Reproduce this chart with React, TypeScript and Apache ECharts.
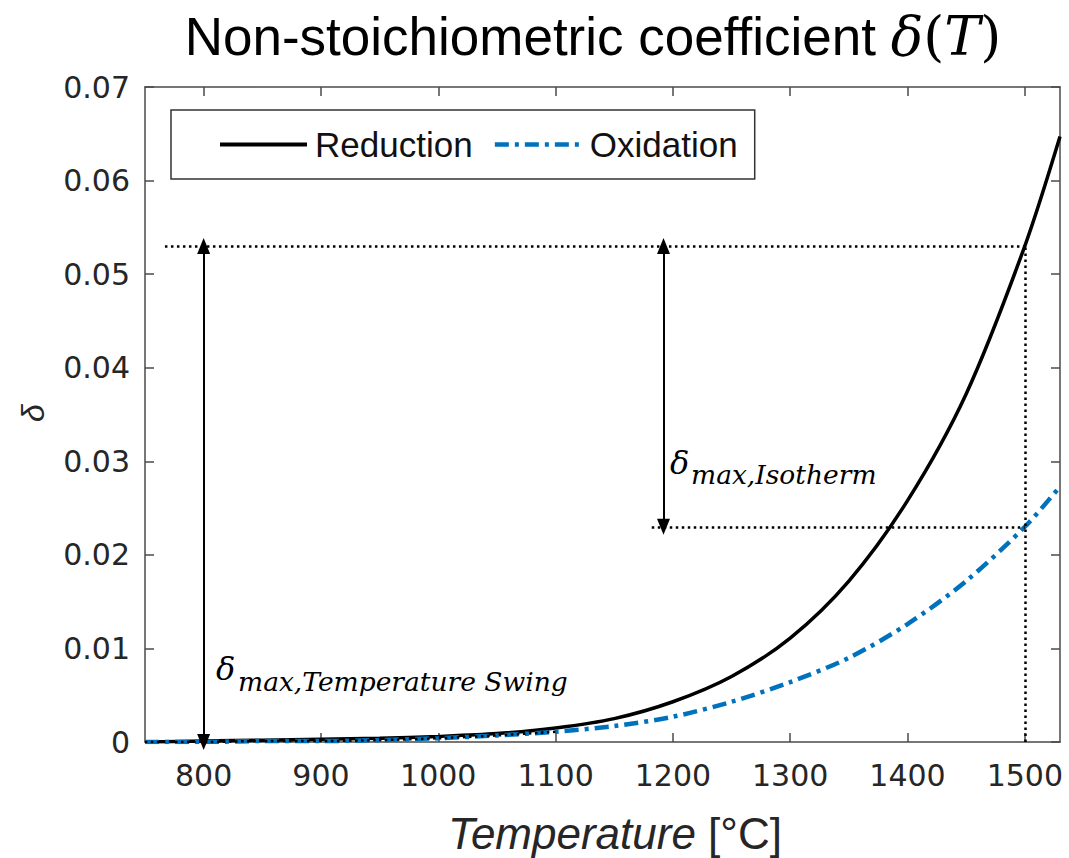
import { useEffect, useRef } from 'react';
import * as echarts from 'echarts';

// Temperature grid [°C] and non-stoichiometric coefficient δ for both half-cycles
const temperatures = [750, 800, 850, 900, 950, 1000, 1050, 1100, 1150, 1200, 1250, 1300, 1350, 1400, 1450, 1500, 1530];
const reduction = [0.0, 0.0001, 0.0002, 0.0003, 0.0004, 0.0006, 0.0009, 0.0015, 0.0025, 0.0043, 0.007, 0.0111, 0.0172, 0.0258, 0.0372, 0.053, 0.0647];
const oxidation = [0.0, 0.0, 0.0001, 0.0001, 0.0002, 0.0004, 0.0007, 0.0011, 0.0017, 0.0027, 0.0043, 0.0064, 0.009, 0.0126, 0.0172, 0.023, 0.0273];

const xTickValues = [800, 900, 1000, 1100, 1200, 1300, 1400, 1500];
const seriesNames = ['Reduction', 'Oxidation'];

// Reference points for the two δ_max definitions
const swingLowT = 800;
const isothermT = 1500;
const isoArrowT = 1192;
const deltaReductionMax = 0.053;
const deltaOxidationMax = 0.023;
const upperGuideStart = 767;
const lowerGuideStart = 1182;
const lowTraceEnd = 1100;

const X_MIN = 750;
const X_MAX = 1530;

const BLUE = '#0072BD';
const AXIS = '#4a4a4a';
const OX_DASH = [14, 6, 4, 6];
const SMOOTH = 0.3;

const pairs = (ys: number[]) => temperatures.map((t, i) => [t, ys[i]]);

export default function App() {
  const ref = useRef<HTMLDivElement>(null);

  useEffect(() => {
    if (!ref.current) return;
    const chart = echarts.init(ref.current, null, { renderer: 'svg' });

    const lowTrace = temperatures
      .map((t, i) => [t, oxidation[i]])
      .filter((p) => p[0] <= lowTraceEnd);

    const dotted = { color: '#000', width: 2.5, type: [2.5, 3.5] as number[], cap: 'butt' as const };

    const axisCommon = {
      min: X_MIN,
      max: X_MAX,
      type: 'value' as const,
      splitLine: { show: false },
      axisLine: { show: true, onZero: false, lineStyle: { color: AXIS, width: 1.5 } },
    };

    chart.setOption({
      animation: false,
      backgroundColor: '#ffffff',
      grid: { left: 145, right: 9, top: 87, bottom: 116, containLabel: false },
      legend: {
        data: [
          { name: seriesNames[0], lineStyle: { width: 4, color: '#000' } },
          { name: seriesNames[1], lineStyle: { width: 4.5, color: BLUE, type: OX_DASH } },
        ],
        left: 171,
        top: 110,
        orient: 'horizontal',
        itemWidth: 87,
        itemHeight: 20,
        itemGap: 20,
        padding: [17, 17, 17, 47],
        borderColor: '#333',
        borderWidth: 1.5,
        borderRadius: 0,
        backgroundColor: '#ffffff',
        itemStyle: { opacity: 0 },
        textStyle: {
          fontFamily: 'Liberation Sans',
          fontSize: 35,
          lineHeight: 35,
          color: '#111',
          padding: [0, 0, 0, 3],
        },
      },
      xAxis: [
        {
          ...axisCommon,
          position: 'bottom',
          axisTick: { show: true, inside: true, length: 9, customValues: xTickValues, lineStyle: { color: AXIS, width: 1.5 } },
          axisLabel: {
            show: true,
            customValues: xTickValues,
            margin: 18,
            fontFamily: 'DejaVu Sans',
            fontSize: 30,
            color: '#262626',
            formatter: (v: number) => String(v),
          },
        },
        {
          ...axisCommon,
          position: 'top',
          axisTick: { show: true, inside: true, length: 9, customValues: xTickValues, lineStyle: { color: AXIS, width: 1.5 } },
          axisLabel: { show: false },
        },
      ],
      yAxis: [
        {
          type: 'value',
          min: 0,
          max: 0.07,
          interval: 0.01,
          position: 'left',
          splitLine: { show: false },
          axisLine: { show: true, onZero: false, lineStyle: { color: AXIS, width: 1.5 } },
          axisTick: { show: true, inside: true, length: 9, lineStyle: { color: AXIS, width: 1.5 } },
          axisLabel: {
            margin: 15,
            fontFamily: 'DejaVu Sans',
            fontSize: 30,
            color: '#262626',
            formatter: (v: number) => (v === 0 ? '0' : v.toFixed(2)),
          },
        },
        {
          type: 'value',
          min: 0,
          max: 0.07,
          interval: 0.01,
          position: 'right',
          splitLine: { show: false },
          axisLine: { show: true, onZero: false, lineStyle: { color: AXIS, width: 1.5 } },
          axisTick: { show: true, inside: true, length: 9, lineStyle: { color: AXIS, width: 1.5 } },
          axisLabel: { show: false },
        },
      ],
      series: [
        {
          name: 'Reduction',
          type: 'line',
          data: pairs(reduction),
          symbol: 'none',
          smooth: SMOOTH,
          lineStyle: { color: '#000', width: 3.5 },
          itemStyle: { color: '#000' },
          z: 3,
        },
        {
          name: 'Oxidation',
          type: 'line',
          data: pairs(oxidation),
          symbol: 'none',
          smooth: SMOOTH,
          lineStyle: { color: BLUE, width: 4.5, type: OX_DASH },
          itemStyle: { color: BLUE },
          z: 4,
        },
        {
          name: 'low-temperature trace',
          type: 'line',
          data: lowTrace,
          symbol: 'none',
          smooth: SMOOTH,
          lineStyle: dotted,
          z: 5,
        },
        {
          name: 'guides',
          type: 'line',
          data: [],
          z: 6,
          markLine: {
            silent: true,
            symbol: 'none',
            label: { show: false },
            lineStyle: dotted,
            data: [
              [{ coord: [upperGuideStart, deltaReductionMax] }, { coord: [isothermT, deltaReductionMax] }],
              [{ coord: [lowerGuideStart, deltaOxidationMax] }, { coord: [isothermT, deltaOxidationMax] }],
              [{ coord: [isothermT, 0] }, { coord: [isothermT, deltaReductionMax] }],
            ],
          },
        },
        {
          name: 'arrows',
          type: 'line',
          data: [],
          z: 7,
          markLine: {
            silent: true,
            symbol: ['triangle', 'triangle'],
            symbolSize: [13, 16],
            label: { show: false },
            lineStyle: { color: '#000', width: 2, type: 'solid' },
            data: [
              [{ coord: [swingLowT, 0] }, { coord: [swingLowT, deltaReductionMax] }],
              [{ coord: [isoArrowT, deltaOxidationMax] }, { coord: [isoArrowT, deltaReductionMax] }],
            ],
          },
        },
      ],
      graphic: [
        {
          type: 'text',
          x: 593,
          y: 36,
          style: {
            text: '{a|Non-stoichiometric coefficient }{m|δ}{p|(}{m|T}{p|)}',
            align: 'center',
            verticalAlign: 'middle',
            rich: {
              a: { fontFamily: 'Liberation Sans', fontSize: 53, fill: '#000' },
              m: { fontFamily: 'DejaVu Serif', fontStyle: 'italic', fontSize: 54, fill: '#000' },
              p: { fontFamily: 'DejaVu Serif', fontSize: 54, fill: '#000' },
            },
          },
        },
        {
          type: 'text',
          x: 615,
          y: 833,
          style: {
            text: '{i|Temperature }{n|[°C]}',
            align: 'center',
            verticalAlign: 'middle',
            rich: {
              i: { fontFamily: 'Liberation Sans', fontStyle: 'italic', fontSize: 44, fill: '#262626' },
              n: { fontFamily: 'Liberation Sans', fontSize: 44, fill: '#262626' },
            },
          },
        },
        {
          type: 'text',
          x: 33,
          y: 413,
          rotation: Math.PI / 2,
          style: {
            text: 'δ',
            align: 'center',
            verticalAlign: 'middle',
            fontFamily: 'Liberation Sans',
            fontStyle: 'italic',
            fontSize: 32,
            fill: '#262626',
          },
        },
        {
          type: 'text',
          x: 216,
          y: 685,
          style: {
            text: 'δ',
            align: 'left',
            verticalAlign: 'bottom',
            fontFamily: 'DejaVu Serif',
            fontStyle: 'italic',
            fontSize: 32,
            fill: '#000',
          },
        },
        {
          type: 'text',
          x: 238,
          y: 695,
          style: {
            text: 'max,Temperature Swing',
            align: 'left',
            verticalAlign: 'bottom',
            fontFamily: 'DejaVu Serif',
            fontStyle: 'italic',
            fontSize: 26.5,
            fill: '#000',
          },
        },
        {
          type: 'text',
          x: 670,
          y: 479,
          style: {
            text: 'δ',
            align: 'left',
            verticalAlign: 'bottom',
            fontFamily: 'DejaVu Serif',
            fontStyle: 'italic',
            fontSize: 32,
            fill: '#000',
          },
        },
        {
          type: 'text',
          x: 691,
          y: 488,
          style: {
            text: 'max,Isotherm',
            align: 'left',
            verticalAlign: 'bottom',
            fontFamily: 'DejaVu Serif',
            fontStyle: 'italic',
            fontSize: 26.5,
            fill: '#000',
          },
        },
      ],
    });

    return () => chart.dispose();
  }, []);

  return (
    <div
      ref={ref}
      style={{ position: 'absolute', left: 0, top: 0, width: 1069, height: 858, background: '#fff' }}
    />
  );
}
